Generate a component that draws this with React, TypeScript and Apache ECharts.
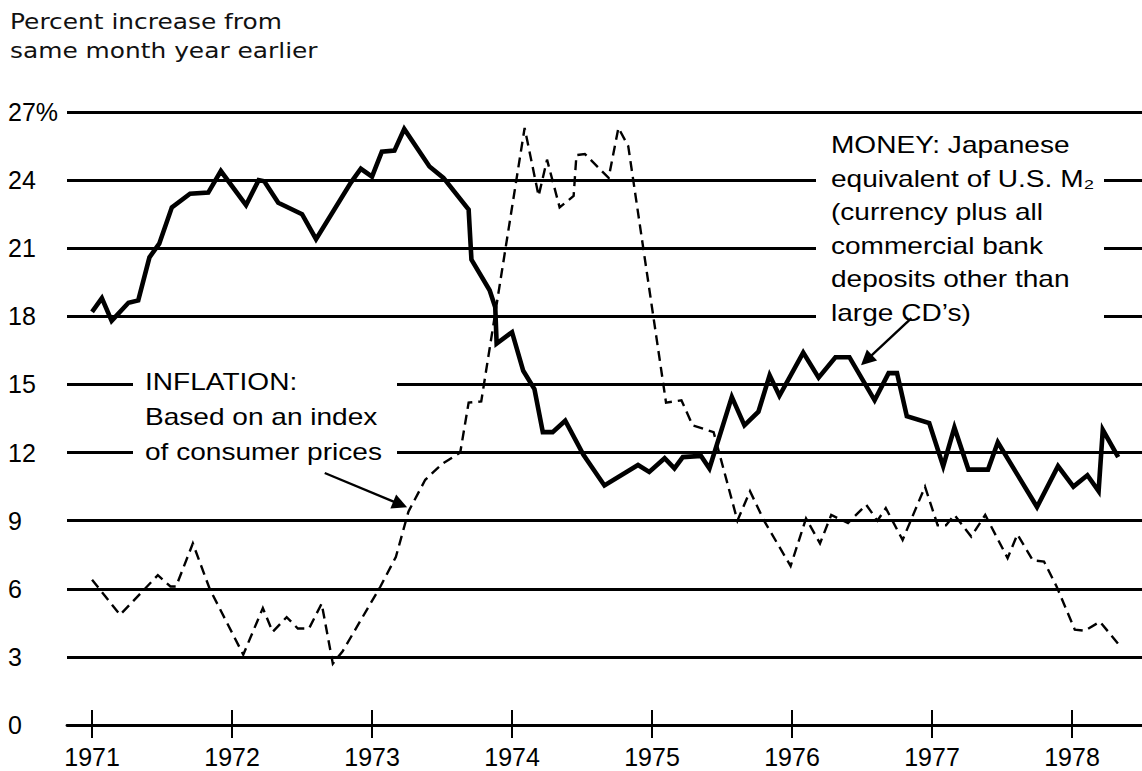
import React, { useEffect, useRef } from "react";
import * as echarts from "echarts";

// ---- Data ----
const yearTicks = [1971, 1972, 1973, 1974, 1975, 1976, 1977, 1978];

const moneyDates = [
  1971.0, 1971.07, 1971.14, 1971.26, 1971.33, 1971.41, 1971.48, 1971.57, 1971.7, 1971.83,
  1971.92, 1972.1, 1972.19, 1972.23, 1972.33, 1972.5, 1972.6, 1972.85, 1972.92, 1973.0,
  1973.07, 1973.16, 1973.23, 1973.41, 1973.51, 1973.69, 1973.71, 1973.84, 1973.88, 1973.89,
  1974.0, 1974.08, 1974.16, 1974.22, 1974.29, 1974.38, 1974.51, 1974.66, 1974.9, 1974.98,
  1975.09, 1975.16, 1975.22, 1975.35, 1975.41, 1975.57, 1975.66, 1975.76, 1975.84, 1975.91,
  1976.08, 1976.19, 1976.31, 1976.41, 1976.59, 1976.69, 1976.75, 1976.82, 1976.98, 1977.08,
  1977.16, 1977.26, 1977.4, 1977.47, 1977.75, 1977.9, 1978.01, 1978.11, 1978.19, 1978.22,
  1978.33,
];
const moneyValues = [
  18.2, 18.8, 17.8, 18.6, 18.7, 20.6, 21.2, 22.8, 23.4, 23.45,
  24.4, 22.9, 24.0, 23.95, 23.0, 22.5, 21.4, 23.9, 24.5, 24.15,
  25.25, 25.3, 26.25, 24.6, 24.1, 22.7, 20.5, 19.15, 18.4, 16.8,
  17.3, 15.6, 14.8, 12.9, 12.9, 13.4, 11.9, 10.55, 11.45, 11.15,
  11.75, 11.3, 11.8, 11.85, 11.3, 14.45, 13.2, 13.8, 15.4, 14.5,
  16.4, 15.3, 16.2, 16.2, 14.3, 15.5, 15.5, 13.6, 13.3, 11.4,
  13.1, 11.25, 11.25, 12.45, 9.6, 11.4, 10.5, 11.0, 10.3, 13.0,
  11.8,
];

const inflationDates = [
  1971.0, 1971.2, 1971.47, 1971.56, 1971.6, 1971.72, 1971.84, 1972.08, 1972.22, 1972.29,
  1972.39, 1972.47, 1972.55, 1972.64, 1972.72, 1972.79, 1973.06, 1973.17, 1973.26, 1973.38,
  1973.5, 1973.63, 1973.69, 1973.78, 1974.09, 1974.19, 1974.25, 1974.34, 1974.44, 1974.46,
  1974.52, 1974.69, 1974.76, 1974.83, 1975.1, 1975.21, 1975.29, 1975.44, 1975.61, 1975.7,
  1975.8, 1975.99, 1976.1, 1976.2, 1976.28, 1976.4, 1976.53, 1976.61, 1976.67, 1976.79,
  1976.95, 1977.04, 1977.1, 1977.16, 1977.28, 1977.38, 1977.54, 1977.61, 1977.72, 1977.8,
  1977.89, 1978.02, 1978.09, 1978.2, 1978.34,
];
const inflationValues = [
  6.4, 4.85, 6.6, 6.1, 6.1, 8.0, 6.0, 3.1, 5.15, 4.1,
  4.75, 4.25, 4.25, 5.35, 2.7, 3.25, 6.1, 7.4, 9.4, 10.8,
  11.5, 12.0, 14.2, 14.25, 26.3, 23.3, 24.9, 22.8, 23.3, 25.1,
  25.15, 24.1, 26.3, 25.5, 14.2, 14.3, 13.2, 12.9, 9.0, 10.3,
  9.0, 7.0, 9.1, 8.0, 9.25, 8.9, 9.7, 9.0, 9.55, 8.15,
  10.5, 8.8, 8.8, 9.25, 8.3, 9.25, 7.35, 8.4, 7.25, 7.2,
  6.1, 4.2, 4.15, 4.55, 3.5,
];

const titleLines = ["Percent increase from", "same month year earlier"];
const moneyNote = [
  "MONEY: Japanese",
  "equivalent of U.S. M\u2082",
  "(currency plus all",
  "commercial bank",
  "deposits other than",
  "large CD\u2019s)",
];
const inflationNote = ["INFLATION:", "Based on an index", "of consumer prices"];

// arrows: [start, end] in data coordinates
const inflationArrow = [[1972.662, 11.1], [1973.201, 9.72]];
const moneyArrow = [[1976.853, 17.92], [1976.532, 16.07]];

const X_MIN = 1970.821;
const X_MAX = 1978.5;

export default function App() {
  const ref = useRef<HTMLDivElement>(null);

  useEffect(() => {
    if (!ref.current) return;
    const chart = echarts.init(ref.current, undefined, { renderer: "svg" });

    const sansFont = "Liberation Sans";
    const annFont = 23;
    const annScale = 1.22;

    const graphic: any[] = [
      {
        type: "rect",
        z: 1,
        shape: { x: 133, y: 366, width: 264, height: 98 },
        style: { fill: "#fff" },
        silent: true,
      },
      {
        type: "rect",
        z: 1,
        shape: { x: 816, y: 122, width: 288, height: 208 },
        style: { fill: "#fff" },
        silent: true,
      },
    ];
    titleLines.forEach((t, i) => {
      graphic.push({
        type: "text",
        z: 5,
        x: 10,
        y: 22 + i * 28.5,
        scaleX: 1.13,
        silent: true,
        style: {
          text: t,
          fontFamily: "DejaVu Sans",
          fontSize: 22,
          fill: "#111",
          align: "left",
          verticalAlign: "middle",
        },
      });
    });
    moneyNote.forEach((t, i) => {
      graphic.push({
        type: "text",
        z: 5,
        x: 831,
        y: 145 + i * 33.6,
        scaleX: annScale,
        silent: true,
        style: {
          text: t,
          fontFamily: sansFont,
          fontSize: annFont,
          fill: "#000",
          align: "left",
          verticalAlign: "middle",
        },
      });
    });
    inflationNote.forEach((t, i) => {
      graphic.push({
        type: "text",
        z: 5,
        x: 145,
        y: 382 + i * 35,
        scaleX: annScale,
        silent: true,
        style: {
          text: t,
          fontFamily: sansFont,
          fontSize: annFont,
          fill: "#000",
          align: "left",
          verticalAlign: "middle",
        },
      });
    });

    const baseX = {
      type: "value",
      min: X_MIN,
      max: X_MAX,
      splitLine: { show: false },
      position: "bottom",
    };

    chart.setOption({
      animation: false,
      backgroundColor: "#fff",
      grid: {
        left: 67,
        right: 0,
        top: 112,
        bottom: 46,
        containLabel: false,
        outerBoundsMode: "none",
      },
      xAxis: [
        {
          ...baseX,
          axisLine: { show: true, lineStyle: { color: "#000", width: 2.8 } },
          axisTick: {
            show: true,
            customValues: yearTicks,
            length: 13,
            lineStyle: { color: "#000", width: 2 },
          },
          axisLabel: {
            show: true,
            customValues: yearTicks,
            margin: 19,
            fontSize: 25,
            fontFamily: sansFont,
            color: "#000",
            formatter: (v: number) => String(Math.round(v)),
          },
        },
        {
          ...baseX,
          axisLine: { show: false },
          axisTick: {
            show: true,
            inside: true,
            customValues: yearTicks,
            length: 15,
            lineStyle: { color: "#000", width: 2 },
          },
          axisLabel: { show: false },
        },
      ],
      yAxis: {
        type: "value",
        min: 0,
        max: 27,
        interval: 3,
        axisLine: { show: false },
        axisTick: { show: false },
        splitLine: { show: true, lineStyle: { color: "#000", width: 2.8 } },
        axisLabel: {
          align: "left",
          margin: 59,
          fontSize: 25,
          fontFamily: sansFont,
          color: "#000",
          formatter: (v: number) => (v === 27 ? "27%" : String(v)),
        },
      },
      series: [
        {
          name: "Money",
          type: "line",
          xAxisIndex: 0,
          z: 3,
          showSymbol: false,
          symbol: "none",
          silent: true,
          data: moneyDates.map((d, i) => [d, moneyValues[i]]),
          lineStyle: { color: "#000", width: 4.6, join: "miter", miterLimit: 6 },
        },
        {
          name: "Inflation",
          type: "line",
          xAxisIndex: 0,
          z: 3,
          showSymbol: false,
          symbol: "none",
          silent: true,
          data: inflationDates.map((d, i) => [d, inflationValues[i]]),
          lineStyle: { color: "#000", width: 2.4, type: [10, 6], join: "miter" },
          markLine: {
            silent: true,
            symbol: ["none", "triangle"],
            symbolSize: 15,
            label: { show: false },
            lineStyle: { color: "#000", width: 2.4, type: "solid" },
            emphasis: { disabled: true },
            data: [
              [{ coord: inflationArrow[0] }, { coord: inflationArrow[1] }],
              [{ coord: moneyArrow[0] }, { coord: moneyArrow[1] }],
            ],
          },
        },
      ],
      graphic,
    });

    return () => chart.dispose();
  }, []);

  return (
    <div
      ref={ref}
      style={{ position: "fixed", left: 0, top: 0, width: 1142, height: 771, background: "#fff" }}
    />
  );
}
